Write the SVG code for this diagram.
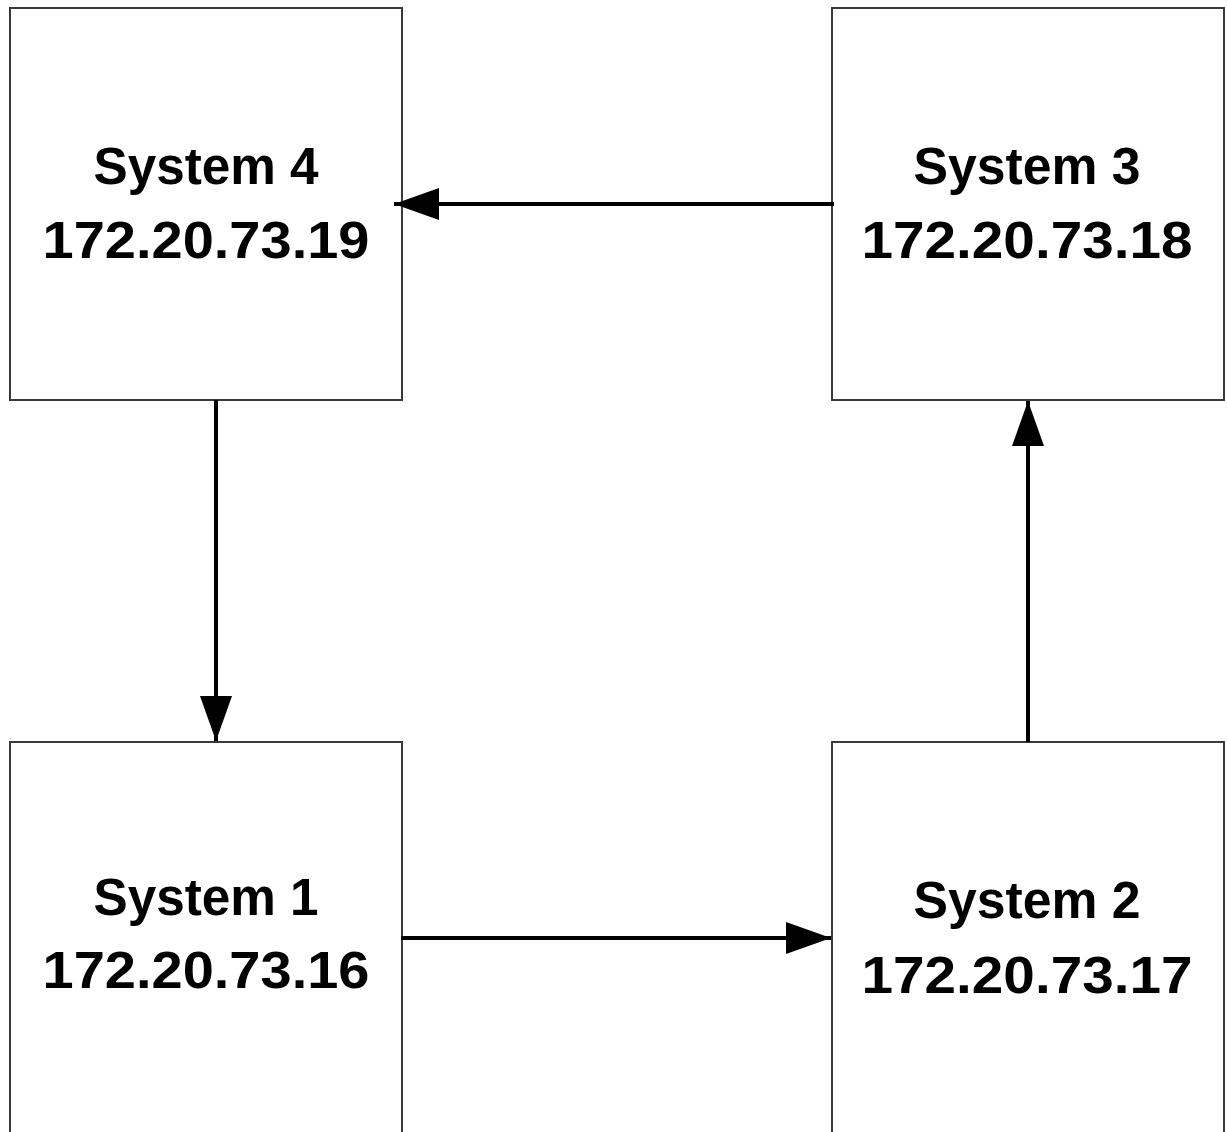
<svg xmlns="http://www.w3.org/2000/svg" width="1227" height="1132" viewBox="0 0 1227 1132">
<style>
.box{fill:#fff;stroke:#3a3a3a;stroke-width:2}
.lbl{font-family:"Liberation Sans",Arial,sans-serif;font-weight:bold;font-size:51px;fill:#000;text-anchor:middle}
.con{stroke:#000;stroke-width:4;fill:none;marker-end:url(#ah)}
</style>
<defs>
<marker id="ah" markerUnits="userSpaceOnUse" markerWidth="45" markerHeight="32" refX="45" refY="16" orient="auto" viewBox="0 0 45 32">
<path d="M0,0 L45,16 L0,32 Z" fill="#000"/>
</marker>
</defs>
<rect width="1227" height="1132" fill="#fff"/>
<g id="system4">
<rect class="box" x="10" y="8" width="392" height="392"/>
<text class="lbl" x="206" y="184" textLength="225" lengthAdjust="spacingAndGlyphs">System 4</text>
<text class="lbl" x="206" y="258" textLength="327" lengthAdjust="spacingAndGlyphs">172.20.73.19</text>
</g>
<g id="system3">
<rect class="box" x="832" y="8" width="392" height="392"/>
<text class="lbl" x="1027" y="184" textLength="227" lengthAdjust="spacingAndGlyphs">System 3</text>
<text class="lbl" x="1027" y="258" textLength="331" lengthAdjust="spacingAndGlyphs">172.20.73.18</text>
</g>
<g id="system1">
<rect class="box" x="10" y="742" width="392" height="392"/>
<text class="lbl" x="206" y="915" textLength="225" lengthAdjust="spacingAndGlyphs">System 1</text>
<text class="lbl" x="206" y="988" textLength="327" lengthAdjust="spacingAndGlyphs">172.20.73.16</text>
</g>
<g id="system2">
<rect class="box" x="832" y="742" width="392" height="392"/>
<text class="lbl" x="1027" y="918" textLength="227" lengthAdjust="spacingAndGlyphs">System 2</text>
<text class="lbl" x="1027" y="993" textLength="331" lengthAdjust="spacingAndGlyphs">172.20.73.17</text>
</g>
<g id="connectors">
<line class="con" x1="834" y1="204" x2="394" y2="204"/>
<line class="con" x1="216" y1="400" x2="216" y2="741"/>
<line class="con" x1="401" y1="938" x2="831" y2="938"/>
<line class="con" x1="1028" y1="742" x2="1028" y2="401"/>
</g>
</svg>
